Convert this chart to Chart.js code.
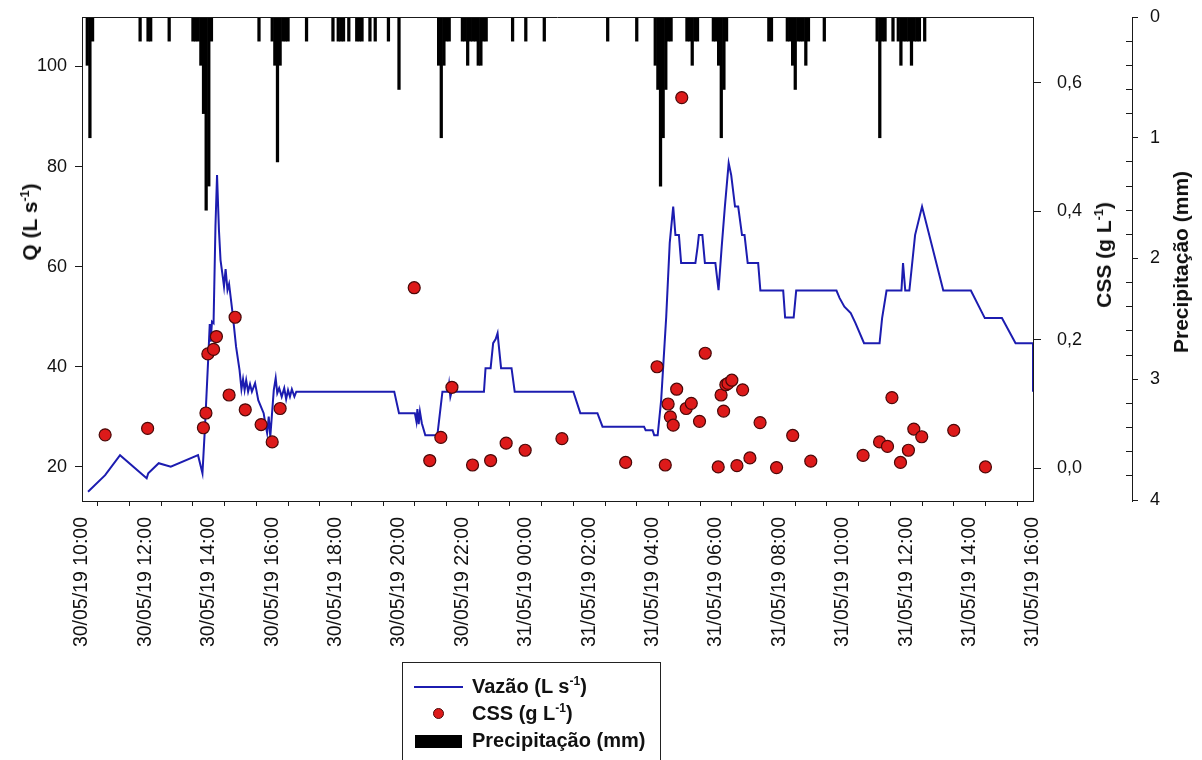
<!DOCTYPE html>
<html>
<head>
<meta charset="utf-8">
<script src="https://cdn.jsdelivr.net/npm/chart.js@4.4.1/dist/chart.umd.min.js"></script>
<style>
html, body { margin: 0; padding: 0; background: #fff; overflow: hidden; }
#wrap { position: relative; width: 1202px; height: 760px; font-family: "Liberation Sans", Arial, sans-serif; color: #111; }
#chart { position: absolute; left: 0; top: 0; }
.axis-title { position: absolute; font-weight: bold; font-size: 21px; white-space: nowrap; transform: translate(-50%, -50%) rotate(-90deg); }
sup { font-size: 0.6em; vertical-align: super; line-height: 0; }
#legend { position: absolute; left: 402px; top: 662px; width: 259px; height: 110px; border: 1.5px solid #222; box-sizing: border-box; }
#legend .txt { position: absolute; left: 69px; font-weight: bold; font-size: 20px; line-height: 22px; white-space: nowrap; }
#legend .sw-line { position: absolute; left: 11px; top: 23px; width: 49px; height: 2px; background: #1c1cb0; }
#legend .sw-dot { position: absolute; left: 30px; top: 45px; width: 9px; height: 9px; border-radius: 50%; background: #dd1a1a; border: 1.2px solid #4a0808; }
#legend .sw-bar { position: absolute; left: 12px; top: 72px; width: 47px; height: 13px; background: #000; }
</style>
</head>
<body>
<div id="wrap">
  <canvas id="chart" width="1202" height="760"></canvas>
  <div class="axis-title" style="left:30px; top:222px;">Q (L s<sup>-1</sup>)</div>
  <div class="axis-title" style="left:1104px; top:255px;">CSS (g L<sup>-1</sup>)</div>
  <div class="axis-title" style="left:1181px; top:262px;">Precipitação (mm)</div>
  <div id="legend">
    <span class="sw-line"></span><span class="txt" style="top:12px;">Vazão (L s<sup>-1</sup>)</span>
    <span class="sw-dot"></span><span class="txt" style="top:39px;">CSS (g L<sup>-1</sup>)</span>
    <span class="sw-bar"></span><span class="txt" style="top:66px;">Precipitação (mm)</span>
  </div>
</div>
<script>
// --- Data ---
// Times are hours counted from 30/05/19 00:00 (24 = 31/05/19 00:00)

// Vazão (L s-1)
const vazaoHora = [10.19, 10.73, 11.20, 12.04, 12.09, 12.42, 12.80, 13.66, 13.80, 13.88, 13.99, 14.03, 14.06, 14.10, 14.15,
  14.21, 14.26, 14.32, 14.37, 14.44, 14.48, 14.53, 14.59, 14.64, 14.75, 14.86, 14.97, 15.03, 15.08, 15.13, 15.18,
  15.24, 15.30, 15.36, 15.46, 15.56, 15.73, 15.80, 15.84, 15.89, 15.94, 16.05, 16.11, 16.16, 16.22, 16.30, 16.38,
  16.44, 16.50, 16.56, 16.62, 16.70, 16.76, 19.85, 20.00, 20.50, 20.55, 20.58, 20.62, 20.66, 20.72, 20.83, 21.21,
  21.37, 21.55, 21.58, 21.62, 21.66, 22.68, 22.73, 22.89, 22.97, 23.05, 23.11, 23.14, 23.22, 23.55, 23.65, 25.50,
  25.72, 26.26, 26.42, 27.73, 27.78, 28.00, 28.05, 28.16, 28.27, 28.43, 28.54, 28.65, 28.72, 28.83, 28.90, 29.35,
  29.42, 29.46, 29.57, 29.65, 29.98, 30.08, 30.18, 30.28, 30.40, 30.48, 30.60, 30.70, 30.82, 30.90, 31.00, 31.33,
  31.40, 32.12, 32.18, 32.45, 32.53, 33.80, 33.90, 34.05, 34.25, 34.40, 34.67, 35.16, 35.24, 35.38, 35.85, 35.90,
  35.97, 36.10, 36.28, 36.50, 37.17, 38.04, 38.48, 39.02, 39.45, 40.00, 40.00];
const vazaoQ = [15.0, 18.3, 22.3, 17.7, 18.7, 20.7, 20.0, 22.3, 18.7, 28.0, 42.7, 48.5, 45.0, 49.0, 48.7,
  68.0, 78.3, 67.3, 61.3, 58.0, 56.0, 59.5, 55.3, 56.5, 50.7, 44.0, 39.3, 35.5, 37.5, 35.3, 37.3,
  35.0, 36.5, 35.0, 36.7, 33.3, 30.7, 28.0, 26.7, 30.0, 26.0, 35.3, 37.7, 34.7, 35.7, 34.0, 35.7,
  33.5, 35.3, 34.0, 35.5, 34.0, 35.0, 35.0, 30.7, 30.7, 29.0, 31.5, 28.5, 31.0, 28.7, 26.3, 26.3,
  35.0, 35.0, 36.5, 34.0, 35.0, 35.0, 39.7, 39.7, 44.7, 45.5, 46.7, 44.7, 39.7, 39.7, 35.0, 35.0,
  30.7, 30.7, 28.0, 28.0, 27.3, 27.3, 26.3, 26.3, 33.3, 50.0, 64.7, 72.0, 66.3, 66.3, 60.7, 60.7,
  64.0, 66.3, 66.3, 60.7, 60.7, 55.3, 64.0, 72.0, 80.7, 78.3, 72.0, 72.0, 66.3, 66.3, 60.7, 60.7,
  55.2, 55.2, 49.8, 49.8, 55.2, 55.2, 53.7, 52.0, 50.7, 48.7, 44.7, 44.7, 49.7, 55.2, 55.2, 60.7,
  55.2, 55.2, 66.3, 72.0, 55.2, 55.2, 49.7, 49.7, 44.7, 44.7, 35.0];

// CSS (g L-1)
const cssHora = [10.73, 12.07, 13.83, 13.91, 13.97, 14.15, 14.24, 14.64, 14.83, 15.15, 15.65, 16.00, 16.25,
  20.48, 20.97, 21.32, 21.67, 22.32, 22.89, 23.38, 23.98, 25.14, 27.15, 28.14, 28.40, 28.49, 28.56, 28.65,
  28.76, 28.92, 29.06, 29.22, 29.48, 29.66, 30.07, 30.16, 30.24, 30.31, 30.38, 30.50, 30.66, 30.84, 31.07,
  31.39, 31.91, 32.42, 32.99, 34.64, 35.16, 35.41, 35.55, 35.82, 36.07, 36.24, 36.49, 37.50, 38.50];
const cssValor = [0.052, 0.062, 0.063, 0.086, 0.178, 0.185, 0.205, 0.114, 0.235, 0.091, 0.068, 0.041, 0.093,
  0.281, 0.012, 0.048, 0.126, 0.005, 0.012, 0.039, 0.028, 0.046, 0.009, 0.158, 0.005, 0.100, 0.080, 0.067,
  0.123, 0.577, 0.093, 0.101, 0.073, 0.179, 0.002, 0.114, 0.089, 0.130, 0.132, 0.137, 0.004, 0.122, 0.016,
  0.071, 0.001, 0.051, 0.011, 0.020, 0.041, 0.034, 0.110, 0.009, 0.028, 0.061, 0.049, 0.059, 0.002];

// Precipitação (mm), 5-minute totals
const chuvaHorario = ['30 10:10', '30 10:15', '30 10:20', '30 11:50', '30 12:05', '30 12:10', '30 12:45',
  '30 13:30', '30 13:35', '30 13:40', '30 13:45', '30 13:50', '30 13:55', '30 14:00', '30 14:05', '30 15:35',
  '30 16:00', '30 16:05', '30 16:10', '30 16:15', '30 16:20', '30 16:25', '30 16:30', '30 17:05', '30 17:55',
  '30 18:05', '30 18:10', '30 18:15', '30 18:25', '30 18:40', '30 18:45', '30 18:50', '30 19:05', '30 19:15',
  '30 19:40', '30 20:00', '30 21:15', '30 21:20', '30 21:25', '30 21:30', '30 21:35', '30 22:00', '30 22:05',
  '30 22:10', '30 22:15', '30 22:20', '30 22:25', '30 22:30', '30 22:35', '30 22:40', '30 22:45', '30 23:35',
  '31 00:00', '31 00:35', '31 02:35', '31 03:30', '31 04:05', '31 04:10', '31 04:15', '31 04:20', '31 04:25',
  '31 04:30', '31 04:35', '31 05:05', '31 05:10', '31 05:15', '31 05:20', '31 05:25', '31 05:55', '31 06:00',
  '31 06:05', '31 06:10', '31 06:15', '31 06:20', '31 07:40', '31 07:45', '31 08:15', '31 08:20', '31 08:25',
  '31 08:30', '31 08:35', '31 08:40', '31 08:45', '31 08:50', '31 08:55', '31 09:25', '31 11:05', '31 11:10',
  '31 11:15', '31 11:20', '31 11:35', '31 11:45', '31 11:50', '31 11:55', '31 12:00', '31 12:05', '31 12:10',
  '31 12:15', '31 12:20', '31 12:25', '31 12:35'];
const chuvaMm = [0.4, 1.0, 0.2, 0.2, 0.2, 0.2, 0.2,
  0.2, 0.2, 0.2, 0.4, 0.8, 1.6, 1.4, 0.2, 0.2,
  0.2, 0.4, 1.2, 0.4, 0.2, 0.2, 0.2, 0.2, 0.2,
  0.2, 0.2, 0.2, 0.2, 0.2, 0.2, 0.2, 0.2, 0.2,
  0.2, 0.6, 0.4, 1.0, 0.4, 0.2, 0.2, 0.2, 0.2,
  0.4, 0.2, 0.2, 0.2, 0.4, 0.4, 0.2, 0.2, 0.2,
  0.2, 0.2, 0.2, 0.2, 0.4, 0.6, 1.4, 1.0, 0.6,
  0.2, 0.2, 0.2, 0.2, 0.4, 0.2, 0.2, 0.2, 0.2,
  0.4, 1.0, 0.6, 0.2, 0.2, 0.2, 0.2, 0.2, 0.4,
  0.6, 0.2, 0.2, 0.2, 0.4, 0.2, 0.2, 0.2, 1.0,
  0.2, 0.2, 0.2, 0.2, 0.4, 0.2, 0.2, 0.2, 0.4,
  0.2, 0.2, 0.2, 0.2];

// X tick labels, every 2 h from 10:00 on 30/05
const xLabels = ['30/05/19 10:00', '30/05/19 12:00', '30/05/19 14:00', '30/05/19 16:00', '30/05/19 18:00',
  '30/05/19 20:00', '30/05/19 22:00', '31/05/19 00:00', '31/05/19 02:00', '31/05/19 04:00', '31/05/19 06:00',
  '31/05/19 08:00', '31/05/19 10:00', '31/05/19 12:00', '31/05/19 14:00', '31/05/19 16:00'];

// --- Helpers ---
const FONT = '"Liberation Sans", Arial, sans-serif';
const INK = '#1a1a1a';

function horaDe(txt) {
    const [dia, hm] = txt.split(' ');
    const [h, m] = hm.split(':').map(Number);
    return (dia === '31' ? 24 : 0) + h + m / 60;
}

// fixed axis sizes so the plot frame lands where it is in the figure
function fixWidth(w) {
    return s => { s.width = w; s.paddingTop = 0; s.paddingBottom = 0; };
}

// draws the top edge of the plot frame
const frameTop = {
    id: 'frameTop',
    afterDraw(chart) {
        const { ctx, chartArea: a } = chart;
        ctx.save();
        ctx.strokeStyle = INK;
        ctx.lineWidth = 1;
        ctx.beginPath();
        ctx.moveTo(a.left, Math.round(a.top) + 0.5);
        ctx.lineTo(a.right, Math.round(a.top) + 0.5);
        ctx.stroke();
        ctx.restore();
    }
};

const ctx = document.getElementById('chart').getContext('2d');

new Chart(ctx, {
    type: 'line',
    data: {
        datasets: [{
            label: 'CSS (g L-1)',
            data: cssHora.map((h, i) => ({ x: h, y: cssValor[i] })),
            yAxisID: 'yCSS',
            showLine: false,
            pointRadius: 6,
            pointBackgroundColor: '#dd1a1a',
            pointBorderColor: '#4a0808',
            pointBorderWidth: 1.2,
            order: 0
        }, {
            label: 'Vazão (L s-1)',
            data: vazaoHora.map((h, i) => ({ x: h, y: vazaoQ[i] })),
            yAxisID: 'yQ',
            borderColor: '#1c1cb0',
            borderWidth: 2,
            pointRadius: 0,
            tension: 0,
            order: 1
        }, {
            type: 'bar',
            label: 'Precipitação (mm)',
            data: chuvaHorario.map((t, i) => ({ x: horaDe(t), y: chuvaMm[i] })),
            yAxisID: 'yP',
            backgroundColor: '#000',
            barThickness: 2.6,
            order: 2
        }]
    },
    options: {
        responsive: false,
        animation: false,
        layout: { padding: { top: 17, left: 0, right: 0, bottom: 0 } },
        plugins: { legend: { display: false }, tooltip: { enabled: false } },
        scales: {
            x: {
                type: 'linear',
                min: 10,
                max: 40,
                offset: false,
                border: { color: INK, width: 1 },
                grid: { drawOnChartArea: false, tickLength: 5, tickColor: INK },
                ticks: {
                    stepSize: 1,
                    autoSkip: false,
                    minRotation: 90,
                    maxRotation: 90,
                    padding: 11,
                    color: '#111',
                    font: { size: 19.5, family: FONT },
                    callback: v => (v % 2 === 0 ? xLabels[(v - 10) / 2] : '')
                },
                afterFit: s => { s.height = 259; s.paddingLeft = 0; s.paddingRight = 0; }
            },
            yQ: {
                position: 'left',
                min: 13.14,
                max: 109.9,
                border: { color: INK, width: 1 },
                grid: { drawOnChartArea: false, tickLength: 7, tickColor: INK },
                ticks: { stepSize: 20, includeBounds: false, padding: 8, color: '#111', font: { size: 18, family: FONT } },
                afterFit: fixWidth(82)
            },
            yCSS: {
                position: 'right',
                weight: 0,
                min: -0.051,
                max: 0.7024,
                border: { color: INK, width: 1 },
                grid: { drawOnChartArea: false, tickLength: 8, tickColor: INK },
                ticks: {
                    stepSize: 0.2,
                    includeBounds: false,
                    padding: 16,
                    color: '#111',
                    font: { size: 18, family: FONT },
                    callback: v => v.toFixed(1).replace('.', ',')
                },
                afterFit: fixWidth(99)
            },
            // minor ticks of the rain axis, pointing inwards
            yPmin: {
                position: 'right',
                weight: 1,
                min: 0,
                max: 4.008,
                reverse: true,
                border: { color: INK, width: 1 },
                grid: {
                    drawOnChartArea: false,
                    tickLength: -6,
                    tickColor: c => (Math.abs(c.tick.value - Math.round(c.tick.value)) < 1e-6 ? 'rgba(0,0,0,0)' : INK)
                },
                ticks: { display: false, stepSize: 0.2, includeBounds: false },
                afterFit: fixWidth(0)
            },
            yP: {
                position: 'right',
                weight: 2,
                min: 0,
                max: 4.008,
                reverse: true,
                border: { display: false },
                grid: { drawOnChartArea: false, tickLength: 6, tickColor: INK },
                ticks: { stepSize: 1, includeBounds: false, padding: 12, color: '#111', font: { size: 18, family: FONT } },
                afterFit: fixWidth(70)
            }
        }
    },
    plugins: [frameTop]
});
</script>
</body>
</html>
